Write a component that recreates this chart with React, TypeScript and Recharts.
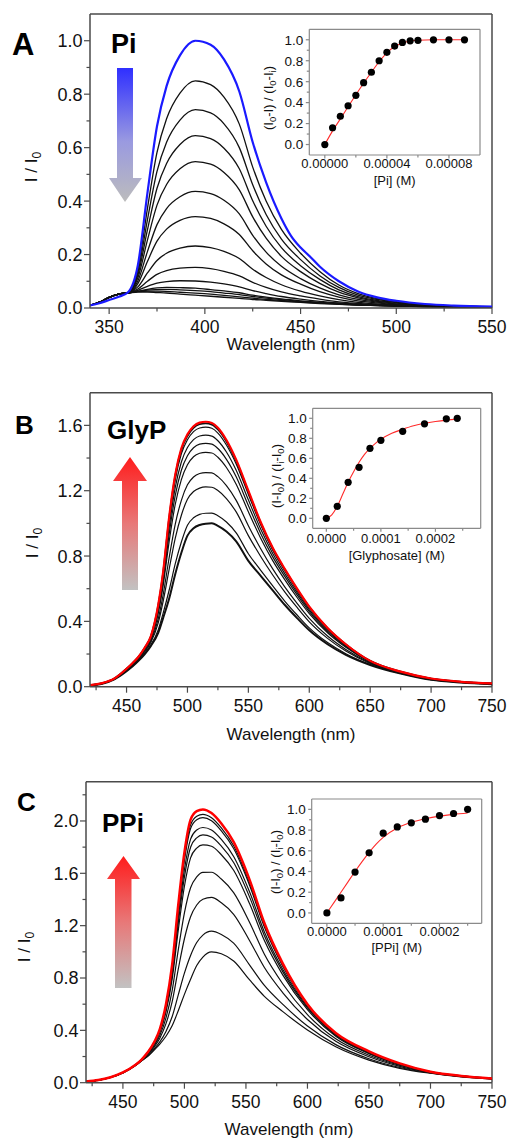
import React from 'react';
import { LineChart, Line, XAxis, YAxis, ReferenceLine, ComposedChart, Scatter } from 'recharts';

const FONT = '"Liberation Sans", Arial, Helvetica, sans-serif';
const AXIS = '#4a4a4a';
const INSET_AXIS = '#8a8a8a';

// ---------------- Panel A (Pi) ----------------
const wavelengthA = [340, 345, 350, 355, 360, 365, 370, 375, 380, 387, 395, 403, 410, 418, 425, 432, 440, 445, 450, 455, 460, 470, 480, 490, 500, 515, 530, 550];
const piStart = [0.010, 0.018, 0.030, 0.042, 0.060, 0.160, 0.430, 0.680, 0.830, 0.945, 1.000, 0.985, 0.930, 0.810, 0.620, 0.470, 0.335, 0.270, 0.226, 0.192, 0.155, 0.100, 0.062, 0.040, 0.027, 0.015, 0.009, 0.005];
const piStep1 = [0.010, 0.022, 0.040, 0.052, 0.059, 0.144, 0.372, 0.582, 0.708, 0.804, 0.850, 0.836, 0.789, 0.688, 0.527, 0.400, 0.294, null, 0.205, null, 0.137, 0.086, 0.054, 0.035, 0.024, 0.013, 0.008, 0.005];
const piStep2 = [0.010, 0.022, 0.040, 0.052, 0.059, 0.133, 0.330, 0.511, 0.620, 0.703, 0.742, 0.730, 0.689, 0.600, 0.461, 0.350, 0.258, null, 0.181, null, 0.121, 0.077, 0.048, 0.032, 0.022, 0.012, 0.008, 0.004];
const piStep3 = [0.010, 0.022, 0.040, 0.052, 0.058, 0.123, 0.292, 0.448, 0.541, 0.612, 0.645, 0.634, 0.598, 0.521, 0.401, 0.306, 0.226, null, 0.158, null, 0.107, 0.068, 0.043, 0.028, 0.020, 0.011, 0.007, 0.004];
const piStep4 = [0.010, 0.022, 0.040, 0.052, 0.058, 0.113, 0.254, 0.385, 0.462, 0.521, 0.548, 0.538, 0.507, 0.442, 0.341, 0.261, 0.193, null, 0.136, null, 0.092, 0.059, 0.038, 0.025, 0.018, 0.010, 0.007, 0.004];
const piStep5 = [0.010, 0.022, 0.040, 0.052, 0.058, 0.101, 0.211, 0.312, 0.372, 0.416, 0.436, 0.428, 0.403, 0.352, 0.272, 0.209, 0.156, null, 0.110, null, 0.075, 0.049, 0.032, 0.022, 0.015, 0.009, 0.006, 0.004];
const piStep6 = [0.010, 0.022, 0.040, 0.052, 0.057, 0.091, 0.174, 0.250, 0.295, 0.328, 0.342, 0.335, 0.315, 0.275, 0.214, 0.165, 0.124, null, 0.089, null, 0.061, 0.041, 0.027, 0.019, 0.013, 0.008, 0.005, 0.003];
const piStep7 = [0.010, 0.022, 0.040, 0.052, 0.057, 0.079, 0.131, 0.178, 0.205, 0.224, 0.232, 0.226, 0.212, 0.185, 0.145, 0.114, 0.087, null, 0.063, null, 0.045, 0.031, 0.021, 0.015, 0.011, 0.007, 0.005, 0.003];
const piStep8 = [0.010, 0.022, 0.040, 0.052, 0.056, 0.071, 0.100, 0.126, 0.140, 0.149, 0.152, 0.147, 0.137, 0.120, 0.096, 0.077, 0.060, null, 0.045, null, 0.033, 0.023, 0.017, 0.012, 0.009, 0.006, 0.004, 0.003];
const piStep9 = [0.010, 0.022, 0.040, 0.052, 0.056, 0.066, 0.081, 0.093, 0.099, 0.102, 0.101, 0.097, 0.090, 0.079, 0.065, 0.054, 0.043, null, 0.033, null, 0.025, 0.019, 0.014, 0.011, 0.008, 0.006, 0.004, 0.003];
const piStep10 = [0.010, 0.022, 0.040, 0.052, 0.056, 0.063, 0.070, 0.075, 0.077, 0.076, 0.074, 0.069, 0.064, 0.057, 0.048, 0.041, 0.034, null, 0.027, null, 0.021, 0.016, 0.012, 0.010, 0.008, 0.005, 0.004, 0.003];
const piStep11 = [0.010, 0.022, 0.040, 0.052, 0.056, 0.062, 0.067, 0.069, 0.070, 0.068, 0.065, 0.061, 0.056, 0.050, 0.043, 0.037, 0.031, null, 0.025, null, 0.020, 0.016, 0.012, 0.010, 0.008, 0.005, 0.004, 0.003];
const piStep12 = [0.010, 0.022, 0.040, 0.052, 0.056, 0.061, 0.063, 0.063, 0.062, 0.059, 0.056, 0.052, 0.047, 0.042, 0.037, 0.032, 0.028, null, 0.023, null, 0.018, 0.015, 0.011, 0.009, 0.007, 0.005, 0.004, 0.003];
const piEnd = [0.010, 0.022, 0.040, 0.052, 0.056, 0.060, 0.060, 0.058, 0.056, 0.052, 0.048, 0.044, 0.040, 0.036, 0.032, 0.029, 0.025, null, 0.021, null, 0.017, 0.014, 0.011, 0.009, 0.007, 0.005, 0.004, 0.003];

// ---------------- Panel B (GlyP) ----------------
const wavelengthB = [420, 430, 440, 450, 455, 460, 465, 470, 476, 480, 485, 490, 495, 500, 505, 510, 515, 520, 525, 532, 540, 550, 560, 570, 580, 590, 600, 615, 630, 650, 675, 700, 725, 750];
const glyStart = [0.008, 0.018, 0.045, 0.095, 0.125, 0.160, 0.200, 0.250, 0.330, 0.420, 0.540, 0.690, 0.820, 0.925, 0.970, 0.990, 0.998, 1.000, 0.985, 0.950, 0.890, 0.770, 0.680, 0.590, 0.500, 0.420, 0.345, 0.260, 0.195, 0.133, 0.080, 0.042, 0.025, 0.015];
const glyStep1 = [0.008, 0.018, 0.046, 0.097, 0.127, 0.163, 0.204, 0.256, 0.348, 0.449, 0.592, 0.753, 0.886, 0.989, 1.034, 1.055, 1.062, 1.063, 1.047, 1.008, 0.942, 0.814, 0.714, 0.617, 0.523, 0.439, 0.360, 0.270, 0.202, 0.136, 0.081, 0.043, 0.025, 0.016];
const glyStep2 = [0.009, 0.019, 0.047, 0.100, 0.132, 0.169, 0.214, 0.272, 0.391, 0.521, 0.720, 0.910, 1.050, 1.148, 1.195, 1.216, 1.223, 1.221, 1.201, 1.152, 1.070, 0.925, 0.799, 0.684, 0.579, 0.485, 0.397, 0.296, 0.218, 0.142, 0.084, 0.045, 0.027, 0.017];
const glyStep3 = [0.009, 0.020, 0.048, 0.103, 0.135, 0.173, 0.220, 0.280, 0.415, 0.561, 0.791, 0.996, 1.141, 1.236, 1.284, 1.305, 1.311, 1.309, 1.286, 1.231, 1.141, 0.986, 0.846, 0.721, 0.610, 0.510, 0.418, 0.310, 0.228, 0.146, 0.086, 0.046, 0.028, 0.018];
const glyStep4 = [0.009, 0.021, 0.049, 0.106, 0.139, 0.178, 0.228, 0.292, 0.449, 0.616, 0.890, 1.117, 1.268, 1.359, 1.408, 1.429, 1.435, 1.431, 1.405, 1.342, 1.240, 1.071, 0.911, 0.772, 0.654, 0.546, 0.447, 0.330, 0.241, 0.151, 0.088, 0.048, 0.029, 0.019];
const glyStep5 = [0.010, 0.021, 0.049, 0.107, 0.141, 0.180, 0.232, 0.297, 0.464, 0.641, 0.935, 1.171, 1.325, 1.414, 1.463, 1.485, 1.490, 1.485, 1.458, 1.392, 1.285, 1.109, 0.940, 0.795, 0.674, 0.562, 0.459, 0.339, 0.246, 0.153, 0.089, 0.048, 0.029, 0.019];
const glyStep6 = [0.010, 0.021, 0.049, 0.108, 0.142, 0.182, 0.235, 0.302, 0.478, 0.663, 0.975, 1.220, 1.376, 1.464, 1.513, 1.535, 1.540, 1.534, 1.506, 1.437, 1.325, 1.144, 0.967, 0.816, 0.691, 0.576, 0.471, 0.347, 0.251, 0.155, 0.090, 0.049, 0.029, 0.019];
const glyStep7 = [0.010, 0.022, 0.050, 0.109, 0.144, 0.184, 0.238, 0.307, 0.491, 0.685, 1.014, 1.268, 1.426, 1.512, 1.562, 1.584, 1.589, 1.582, 1.553, 1.480, 1.364, 1.177, 0.993, 0.836, 0.708, 0.590, 0.482, 0.355, 0.257, 0.157, 0.091, 0.050, 0.030, 0.020];
const glyStep8 = [0.010, 0.022, 0.050, 0.110, 0.145, 0.185, 0.239, 0.309, 0.497, 0.696, 1.032, 1.290, 1.450, 1.535, 1.585, 1.607, 1.612, 1.605, 1.575, 1.501, 1.382, 1.193, 1.005, 0.846, 0.716, 0.597, 0.488, 0.358, 0.259, 0.158, 0.092, 0.050, 0.030, 0.020];
const glyEnd = [0.010, 0.022, 0.050, 0.110, 0.145, 0.185, 0.240, 0.310, 0.500, 0.700, 1.040, 1.300, 1.460, 1.545, 1.595, 1.617, 1.622, 1.615, 1.585, 1.510, 1.390, 1.200, 1.010, 0.850, 0.720, 0.600, 0.490, 0.360, 0.260, 0.158, 0.092, 0.050, 0.030, 0.020];

// ---------------- Panel C (PPi) ----------------
const wavelengthC = [420, 430, 440, 450, 460, 465, 470, 476, 480, 485, 490, 495, 500, 505, 510, 515, 522, 530, 540, 553, 565, 580, 600, 623, 650, 675, 700, 725, 750];
const ppiStart = [0.008, 0.018, 0.040, 0.075, 0.130, 0.165, 0.200, 0.255, 0.295, 0.355, 0.435, 0.550, 0.675, 0.790, 0.895, 0.960, 1.000, 0.985, 0.930, 0.785, 0.660, 0.543, 0.403, 0.275, 0.173, 0.110, 0.072, 0.045, 0.028];
const ppiStep1 = [0.008, 0.018, 0.040, 0.075, 0.131, 0.166, 0.204, 0.265, 0.312, 0.392, 0.504, 0.671, 0.837, 0.972, 1.071, 1.128, 1.158, 1.133, 1.066, 0.899, 0.743, 0.598, 0.433, 0.291, 0.183, 0.116, 0.074, 0.046, 0.029];
const ppiStep2 = [0.009, 0.019, 0.041, 0.076, 0.132, 0.169, 0.212, 0.280, 0.340, 0.451, 0.617, 0.868, 1.100, 1.268, 1.358, 1.402, 1.416, 1.375, 1.287, 1.085, 0.880, 0.687, 0.483, 0.316, 0.198, 0.125, 0.077, 0.048, 0.030];
const ppiStep3 = [0.009, 0.019, 0.041, 0.077, 0.133, 0.171, 0.217, 0.292, 0.361, 0.496, 0.702, 1.015, 1.298, 1.490, 1.572, 1.607, 1.608, 1.556, 1.452, 1.224, 0.981, 0.754, 0.520, 0.335, 0.210, 0.132, 0.079, 0.049, 0.031];
const ppiStep4 = [0.010, 0.020, 0.042, 0.077, 0.134, 0.173, 0.223, 0.304, 0.383, 0.541, 0.789, 1.166, 1.501, 1.718, 1.793, 1.818, 1.807, 1.742, 1.623, 1.367, 1.086, 0.822, 0.558, 0.355, 0.222, 0.139, 0.081, 0.050, 0.032];
const ppiStep5 = [0.010, 0.020, 0.042, 0.077, 0.134, 0.173, 0.225, 0.309, 0.390, 0.558, 0.820, 1.220, 1.572, 1.799, 1.871, 1.893, 1.877, 1.808, 1.683, 1.418, 1.123, 0.847, 0.572, 0.362, 0.226, 0.141, 0.082, 0.051, 0.032];
const ppiStep6 = [0.010, 0.020, 0.042, 0.078, 0.134, 0.174, 0.226, 0.312, 0.396, 0.570, 0.843, 1.261, 1.628, 1.861, 1.931, 1.950, 1.931, 1.859, 1.729, 1.457, 1.152, 0.865, 0.582, 0.367, 0.229, 0.143, 0.083, 0.051, 0.032];
const ppiStep7 = [0.010, 0.020, 0.042, 0.078, 0.135, 0.174, 0.228, 0.316, 0.404, 0.586, 0.874, 1.315, 1.699, 1.942, 2.009, 2.025, 2.001, 1.924, 1.789, 1.507, 1.189, 0.889, 0.596, 0.374, 0.233, 0.146, 0.083, 0.052, 0.033];
const ppiStep8 = [0.010, 0.020, 0.042, 0.078, 0.135, 0.175, 0.229, 0.318, 0.406, 0.592, 0.885, 1.333, 1.724, 1.970, 2.036, 2.051, 2.025, 1.947, 1.810, 1.525, 1.202, 0.898, 0.598, 0.377, 0.236, 0.147, 0.084, 0.052, 0.033];
const ppiEnd = [0.010, 0.020, 0.042, 0.078, 0.135, 0.175, 0.230, 0.320, 0.410, 0.600, 0.900, 1.360, 1.760, 2.010, 2.075, 2.088, 2.060, 1.980, 1.840, 1.550, 1.220, 0.910, 0.600, 0.380, 0.240, 0.148, 0.084, 0.052, 0.033];

// ---------------- Insets ----------------
const piConc = [0, 0.000005, 0.00001, 0.000015, 0.00002, 0.000025, 0.00003, 0.000035, 0.00004, 0.000045, 0.00005, 0.000055, 0.00006, 0.00007, 0.00008, 0.00009];
const piRatio = [0, 0.16, 0.27, 0.37, 0.47, 0.59, 0.69, 0.80, 0.88, 0.94, 0.975, 0.99, 0.995, 1.0, 1.0, 1.0];
const piFitConc = [0, 0.000005, 0.00001, 0.000015, 0.00002, 0.000025, 0.00003, 0.000035, 0.00004, 0.000045, 0.00005, 0.000055, 0.00006, 0.00007, 0.00008, 0.00009];
const piFitRatio = [0, 0.13, 0.245, 0.36, 0.475, 0.585, 0.69, 0.79, 0.875, 0.935, 0.97, 0.988, 0.996, 1.0, 1.0, 1.0];

const glyConc = [0, 0.00002, 0.00004, 0.00006, 0.00008, 0.0001, 0.00014, 0.00018, 0.00022, 0.00024];
const glyRatio = [0, 0.12, 0.36, 0.51, 0.70, 0.78, 0.87, 0.945, 0.995, 1.0];
const glyFitConc = [0, 0.00001, 0.00002, 0.00003, 0.00004, 0.00005, 0.00006, 0.00007, 0.00008, 0.00009, 0.0001, 0.00012, 0.00014, 0.00016, 0.00018, 0.0002, 0.00022, 0.00024];
const glyFitRatio = [0, 0.035, 0.12, 0.24, 0.36, 0.465, 0.56, 0.64, 0.70, 0.75, 0.79, 0.85, 0.89, 0.925, 0.95, 0.968, 0.982, 0.992];

const ppiConc = [0, 0.000025, 0.00005, 0.000075, 0.0001, 0.000125, 0.00015, 0.000175, 0.0002, 0.000225, 0.00025];
const ppiRatio = [0, 0.145, 0.395, 0.58, 0.77, 0.83, 0.87, 0.905, 0.94, 0.96, 1.0];
const ppiFitConc = [0, 0.0000125, 0.000025, 0.0000375, 0.00005, 0.0000625, 0.000075, 0.0000875, 0.0001, 0.000125, 0.00015, 0.000175, 0.0002, 0.000225, 0.00025];
const ppiFitRatio = [0, 0.1, 0.2, 0.3, 0.4, 0.495, 0.585, 0.665, 0.73, 0.82, 0.875, 0.91, 0.935, 0.952, 0.965];

// ---------------- Tick lists ----------------
const xTicksA = [350, 375, 400, 425, 450, 475, 500, 525, 550];
const xMajorA = [350, 400, 450, 500, 550];
const yTicksA = [0, 0.1, 0.2, 0.3, 0.4, 0.5, 0.6, 0.7, 0.8, 0.9, 1.0];
const yMajorA = [0, 0.2, 0.4, 0.6, 0.8, 1.0];
const xTicksBC = [425, 450, 475, 500, 525, 550, 575, 600, 625, 650, 675, 700, 725, 750];
const xMajorBC = [450, 500, 550, 600, 650, 700, 750];
const yTicksB = [0, 0.2, 0.4, 0.6, 0.8, 1.0, 1.2, 1.4, 1.6];
const yMajorB = [0, 0.4, 0.8, 1.2, 1.6];
const yTicksC = [0, 0.2, 0.4, 0.6, 0.8, 1.0, 1.2, 1.4, 1.6, 1.8, 2.0, 2.2];
const yMajorC = [0, 0.4, 0.8, 1.2, 1.6, 2.0];
const insetYTicks = [0, 0.1, 0.2, 0.3, 0.4, 0.5, 0.6, 0.7, 0.8, 0.9, 1.0];
const insetYMajor = [0, 0.2, 0.4, 0.6, 0.8, 1.0];
const insetXTicksA = [0, 0.00002, 0.00004, 0.00006, 0.00008];
const insetXMajorA = [0, 0.00004, 0.00008];
const insetXTicksBC = [0, 0.00005, 0.0001, 0.00015, 0.0002, 0.00025];
const insetXMajorBC = [0, 0.0001, 0.0002];

type Seg = { t: string; sub?: boolean };
const insetTitleA: Seg[] = [{ t: '(I' }, { t: '0', sub: true }, { t: '-I) / (I' }, { t: '0', sub: true }, { t: '-I' }, { t: 'i', sub: true }, { t: ')' }];
const insetTitleBC: Seg[] = [{ t: '(I-I' }, { t: '0', sub: true }, { t: ') / (I' }, { t: 'i', sub: true }, { t: '-I' }, { t: '0', sub: true }, { t: ')' }];

function renderSegs(segs: Seg[], subSize: number, shift: number) {
  let cur = 0;
  return segs.map((s, i) => {
    const target = s.sub ? shift : 0;
    const dy = target - cur;
    cur = target;
    return (
      <tspan key={i} dy={dy} fontSize={s.sub ? subSize : undefined}>{s.t}</tspan>
    );
  });
}

type SeriesDef = { key: string; values: (number | null)[]; color: string; width: number };

const makeXTick = (majors: number[], fs: number, base: number, color: string, lenMaj: number, lenMin: number, fmt: (v: number) => string) => (p: any) => {
  const v = p.payload.value;
  const major = majors.indexOf(v) >= 0;
  return (
    <g>
      <line x1={p.x} y1={p.y} x2={p.x} y2={p.y + (major ? lenMaj : lenMin)} stroke={color} strokeWidth={1.2} />
      {major ? (
        <text x={p.x} y={p.y + base} textAnchor="middle" fontSize={fs} fontFamily={FONT} fill="#111">{fmt(v)}</text>
      ) : null}
    </g>
  );
};

const makeYTick = (majors: number[], fs: number, gap: number, color: string, lenMaj: number, lenMin: number) => (p: any) => {
  const v = p.payload.value;
  const major = majors.indexOf(v) >= 0;
  return (
    <g>
      <line x1={p.x - (major ? lenMaj : lenMin)} y1={p.y} x2={p.x} y2={p.y} stroke={color} strokeWidth={1.2} />
      {major ? (
        <text x={p.x - gap} y={p.y + fs * 0.36} textAnchor="end" fontSize={fs} fontFamily={FONT} fill="#111">{Number(v).toFixed(1)}</text>
      ) : null}
    </g>
  );
};

function SpectrumPanel(props: {
  top: number; height: number; plotTop: number; plotBottom: number; plotLeft: number;
  wl: number[]; series: SeriesDef[]; xDomain: [number, number]; yDomain: [number, number];
  xTicks: number[]; xMajor: number[]; yTicks: number[]; yMajor: number[];
  xTitleBaseline: number; yTitleX: number; yTitleY: number;
}) {
  const { top, height, plotTop, plotBottom, plotLeft, wl, series, xDomain, yDomain } = props;
  const rows = wl.map((w, i) => {
    const r: any = { wl: w };
    series.forEach((s) => { r[s.key] = s.values[i]; });
    return r;
  });
  const xAxisH = top + height - plotBottom;
  const yT = props.yTitleY - top;
  const xT = props.yTitleX;
  return (
    <div style={{ position: 'absolute', left: 0, top }}>
      <LineChart width={509} height={height} data={rows} margin={{ top: plotTop - top, right: 17, bottom: 0, left: 0 }}>
        <XAxis
          dataKey="wl" type="number" domain={xDomain} allowDataOverflow ticks={props.xTicks} interval={0}
          height={xAxisH} tickSize={0} tickMargin={0} tickLine={false}
          axisLine={{ stroke: AXIS, strokeWidth: 1.5 }}
          tick={makeXTick(props.xMajor, 17.5, 25, AXIS, 6, 3.5, (v) => String(v))}
          label={{
            content: () => (
              <text x={plotLeft + (492 - plotLeft) / 2} y={props.xTitleBaseline - top} textAnchor="middle" fontSize={17} fontFamily={FONT} fill="#111">Wavelength (nm)</text>
            ),
          }}
        />
        <YAxis
          type="number" domain={yDomain} allowDataOverflow ticks={props.yTicks} interval={0}
          width={plotLeft} tickSize={0} tickMargin={0} tickLine={false}
          axisLine={{ stroke: AXIS, strokeWidth: 1.5 }}
          tick={makeYTick(props.yMajor, 18, 7.5, AXIS, 6, 3.5)}
          label={{
            content: () => (
              <text x={xT} y={yT} transform={`rotate(-90 ${xT} ${yT})`} textAnchor="middle" fontSize={17} fontFamily={FONT} fill="#111">
                I / I<tspan dy={4} fontSize={12}>0</tspan>
              </text>
            ),
          }}
        />
        <ReferenceLine y={yDomain[1]} stroke={AXIS} strokeWidth={1.5} ifOverflow="visible" />
        <ReferenceLine x={xDomain[1]} stroke={AXIS} strokeWidth={1.5} ifOverflow="visible" />
        {series.map((s) => (
          <Line
            key={s.key} dataKey={s.key} type="monotone" stroke={s.color} strokeWidth={s.width}
            dot={false} activeDot={false} isAnimationActive={false} connectNulls
          />
        ))}
      </LineChart>
    </div>
  );
}

function InsetPanel(props: {
  left: number; top: number; width: number; height: number;
  plotLeft: number; plotTop: number; plotRight: number; plotBottom: number;
  conc: number[]; ratio: number[]; fitConc: number[]; fitRatio: number[];
  xDomain: [number, number]; xTicks: number[]; xMajor: number[]; digits: number;
  xTitle: string; yTitle: Seg[]; tickBase: number; titleBase: number; yTitleX: number; yTitleY: number;
}) {
  const { left, top, width, height } = props;
  const pts = props.conc.map((c, i) => ({ x: c, y: props.ratio[i] }));
  const fit = props.fitConc.map((c, i) => ({ x: c, y: props.fitRatio[i] }));
  const tx = props.yTitleX - left;
  const ty = props.yTitleY - top;
  return (
    <div style={{ position: 'absolute', left, top }}>
      <ComposedChart width={width} height={height} margin={{ top: props.plotTop - top, right: left + width - props.plotRight, bottom: 0, left: 0 }}>
        <XAxis
          dataKey="x" type="number" domain={props.xDomain} allowDataOverflow ticks={props.xTicks} interval={0}
          height={top + height - props.plotBottom} tickSize={0} tickMargin={0} tickLine={false}
          axisLine={{ stroke: INSET_AXIS, strokeWidth: 1.2 }}
          tick={makeXTick(props.xMajor, 13, props.tickBase, INSET_AXIS, 3.5, 2.5, (v) => Number(v).toFixed(props.digits))}
          label={{
            content: () => (
              <text x={props.plotLeft - left + (props.plotRight - props.plotLeft) / 2} y={props.plotBottom - top + props.titleBase} textAnchor="middle" fontSize={13} fontFamily={FONT} fill="#111">{props.xTitle}</text>
            ),
          }}
        />
        <YAxis
          dataKey="y" type="number" domain={[-0.1, 1.1]} allowDataOverflow ticks={insetYTicks} interval={0}
          width={props.plotLeft - left} tickSize={0} tickMargin={0} tickLine={false}
          axisLine={{ stroke: INSET_AXIS, strokeWidth: 1.2 }}
          tick={makeYTick(insetYMajor, 13.5, 6, INSET_AXIS, 3.5, 2.5)}
          label={{
            content: () => (
              <text x={tx} y={ty} transform={`rotate(-90 ${tx} ${ty})`} textAnchor="middle" fontSize={13} fontFamily={FONT} fill="#111">
                {renderSegs(props.yTitle, 9.5, 3)}
              </text>
            ),
          }}
        />
        <ReferenceLine y={1.1} stroke={INSET_AXIS} strokeWidth={1.2} ifOverflow="visible" />
        <ReferenceLine x={props.xDomain[1]} stroke={INSET_AXIS} strokeWidth={1.2} ifOverflow="visible" />
        <Line data={fit} dataKey="y" type="monotone" stroke="#ff2b2b" strokeWidth={1.1} dot={false} activeDot={false} isAnimationActive={false} />
        <Scatter
          data={pts} dataKey="y" isAnimationActive={false}
          shape={(p: any) => <circle cx={p.cx} cy={p.cy} r={3.6} fill="#000" />}
        />
      </ComposedChart>
    </div>
  );
}

function Overlay() {
  return (
    <svg width={509} height={1139} style={{ position: 'absolute', left: 0, top: 0, pointerEvents: 'none' }}>
      <defs>
        <linearGradient id="gBlue" x1="0" y1="0" x2="0" y2="1">
          <stop offset="0" stopColor="#2f2fff" />
          <stop offset="0.55" stopColor="#9a9ae0" />
          <stop offset="1" stopColor="#bcbcbc" />
        </linearGradient>
        <linearGradient id="gRed" x1="0" y1="0" x2="0" y2="1">
          <stop offset="0" stopColor="#ff1c1c" />
          <stop offset="0.5" stopColor="#e87878" />
          <stop offset="1" stopColor="#c2c2c2" />
        </linearGradient>
      </defs>
      <polygon points="117,68 133,68 133,178 142,178 125,202 109,178 117,178" fill="url(#gBlue)" />
      <polygon points="130,457 147,481 138,481 138,590 122,590 122,481 113,481" fill="url(#gRed)" />
      <polygon points="123.5,856 140,879 131.5,879 131.5,988 115,988 115,879 107,879" fill="url(#gRed)" />
      <text x={12} y={55} fontSize={31} fontWeight="bold" fontFamily={FONT} fill="#000">A</text>
      <text x={15} y={433.5} fontSize={26} fontWeight="bold" fontFamily={FONT} fill="#000">B</text>
      <text x={17} y={810.5} fontSize={26} fontWeight="bold" fontFamily={FONT} fill="#000">C</text>
      <text x={111} y={53.3} fontSize={27} fontWeight="bold" fontFamily={FONT} fill="#000">Pi</text>
      <text x={107} y={438.5} fontSize={26} fontWeight="bold" fontFamily={FONT} fill="#000">GlyP</text>
      <text x={102} y={831.5} fontSize={26} fontWeight="bold" fontFamily={FONT} fill="#000">PPi</text>
    </svg>
  );
}

const BLACK = '#111111';

export default function App() {
  const seriesA: SeriesDef[] = [
    { key: 'e', values: piEnd, color: BLACK, width: 1.4 },
    { key: 's12', values: piStep12, color: BLACK, width: 1.3 },
    { key: 's11', values: piStep11, color: BLACK, width: 1.3 },
    { key: 's10', values: piStep10, color: BLACK, width: 1.3 },
    { key: 's9', values: piStep9, color: BLACK, width: 1.3 },
    { key: 's8', values: piStep8, color: BLACK, width: 1.3 },
    { key: 's7', values: piStep7, color: BLACK, width: 1.3 },
    { key: 's6', values: piStep6, color: BLACK, width: 1.3 },
    { key: 's5', values: piStep5, color: BLACK, width: 1.3 },
    { key: 's4', values: piStep4, color: BLACK, width: 1.3 },
    { key: 's3', values: piStep3, color: BLACK, width: 1.3 },
    { key: 's2', values: piStep2, color: BLACK, width: 1.3 },
    { key: 's1', values: piStep1, color: BLACK, width: 1.3 },
    { key: 'start', values: piStart, color: '#1a1aff', width: 2.2 },
  ];
  const seriesB: SeriesDef[] = [
    { key: 'start', values: glyStart, color: BLACK, width: 2.0 },
    { key: 's1', values: glyStep1, color: BLACK, width: 1.2 },
    { key: 's2', values: glyStep2, color: BLACK, width: 1.2 },
    { key: 's3', values: glyStep3, color: BLACK, width: 1.2 },
    { key: 's4', values: glyStep4, color: BLACK, width: 1.2 },
    { key: 's5', values: glyStep5, color: BLACK, width: 1.2 },
    { key: 's6', values: glyStep6, color: BLACK, width: 1.2 },
    { key: 's7', values: glyStep7, color: BLACK, width: 1.2 },
    { key: 's8', values: glyStep8, color: BLACK, width: 1.8 },
    { key: 'end', values: glyEnd, color: '#ff0000', width: 2.2 },
  ];
  const seriesC: SeriesDef[] = [
    { key: 'start', values: ppiStart, color: BLACK, width: 1.2 },
    { key: 's1', values: ppiStep1, color: BLACK, width: 1.2 },
    { key: 's2', values: ppiStep2, color: BLACK, width: 1.2 },
    { key: 's3', values: ppiStep3, color: BLACK, width: 1.2 },
    { key: 's4', values: ppiStep4, color: BLACK, width: 1.2 },
    { key: 's5', values: ppiStep5, color: BLACK, width: 1.2 },
    { key: 's6', values: ppiStep6, color: BLACK, width: 1.2 },
    { key: 's7', values: ppiStep7, color: BLACK, width: 1.2 },
    { key: 's8', values: ppiStep8, color: BLACK, width: 1.2 },
    { key: 'end', values: ppiEnd, color: '#ff0000', width: 2.5 },
  ];
  return (
    <div style={{ position: 'absolute', left: 0, top: 0, width: 509, height: 1139, background: '#fff', overflow: 'hidden', fontFamily: FONT }}>
      <SpectrumPanel
        top={0} height={360} plotTop={14} plotBottom={308} plotLeft={90}
        wl={wavelengthA} series={seriesA} xDomain={[340, 550]} yDomain={[0, 1.1]}
        xTicks={xTicksA} xMajor={xMajorA} yTicks={yTicksA} yMajor={yMajorA}
        xTitleBaseline={350} yTitleX={37} yTitleY={167}
      />
      <SpectrumPanel
        top={370} height={380} plotTop={392.7} plotBottom={686.7} plotLeft={90}
        wl={wavelengthB} series={seriesB} xDomain={[420, 750]} yDomain={[0, 1.8]}
        xTicks={xTicksBC} xMajor={xMajorBC} yTicks={yTicksB} yMajor={yMajorB}
        xTitleBaseline={740} yTitleX={38} yTitleY={543}
      />
      <SpectrumPanel
        top={760} height={379} plotTop={781.7} plotBottom={1082.7} plotLeft={86}
        wl={wavelengthC} series={seriesC} xDomain={[420, 750]} yDomain={[0, 2.3]}
        xTicks={xTicksBC} xMajor={xMajorBC} yTicks={yTicksC} yMajor={yMajorC}
        xTitleBaseline={1135} yTitleX={30} yTitleY={947}
      />
      <InsetPanel
        left={250} top={18} width={232} height={170}
        plotLeft={309.3} plotTop={29.3} plotRight={480} plotBottom={155}
        conc={piConc} ratio={piRatio} fitConc={piFitConc} fitRatio={piFitRatio}
        xDomain={[-0.00001, 0.0001]} xTicks={insetXTicksA} xMajor={insetXMajorA} digits={5}
        xTitle="[Pi] (M)" yTitle={insetTitleA} tickBase={12.5} titleBase={29.5} yTitleX={273} yTitleY={98}
      />
      <InsetPanel
        left={250} top={395} width={235} height={170}
        plotLeft={312.7} plotTop={408.3} plotRight={480.7} plotBottom={528.3}
        conc={glyConc} ratio={glyRatio} fitConc={glyFitConc} fitRatio={glyFitRatio}
        xDomain={[-0.000025, 0.000283]} xTicks={insetXTicksBC} xMajor={insetXMajorBC} digits={4}
        xTitle="[Glyphosate] (M)" yTitle={insetTitleBC} tickBase={14.5} titleBase={31.2} yTitleX={281} yTitleY={476}
      />
      <InsetPanel
        left={250} top={785} width={235} height={170}
        plotLeft={311.7} plotTop={799} plotRight={481.7} plotBottom={923.3}
        conc={ppiConc} ratio={ppiRatio} fitConc={ppiFitConc} fitRatio={ppiFitRatio}
        xDomain={[-0.000027, 0.000275]} xTicks={insetXTicksBC} xMajor={insetXMajorBC} digits={4}
        xTitle="[PPi] (M)" yTitle={insetTitleBC} tickBase={13} titleBase={28.5} yTitleX={279.5} yTitleY={862}
      />
      <Overlay />
    </div>
  );
}
